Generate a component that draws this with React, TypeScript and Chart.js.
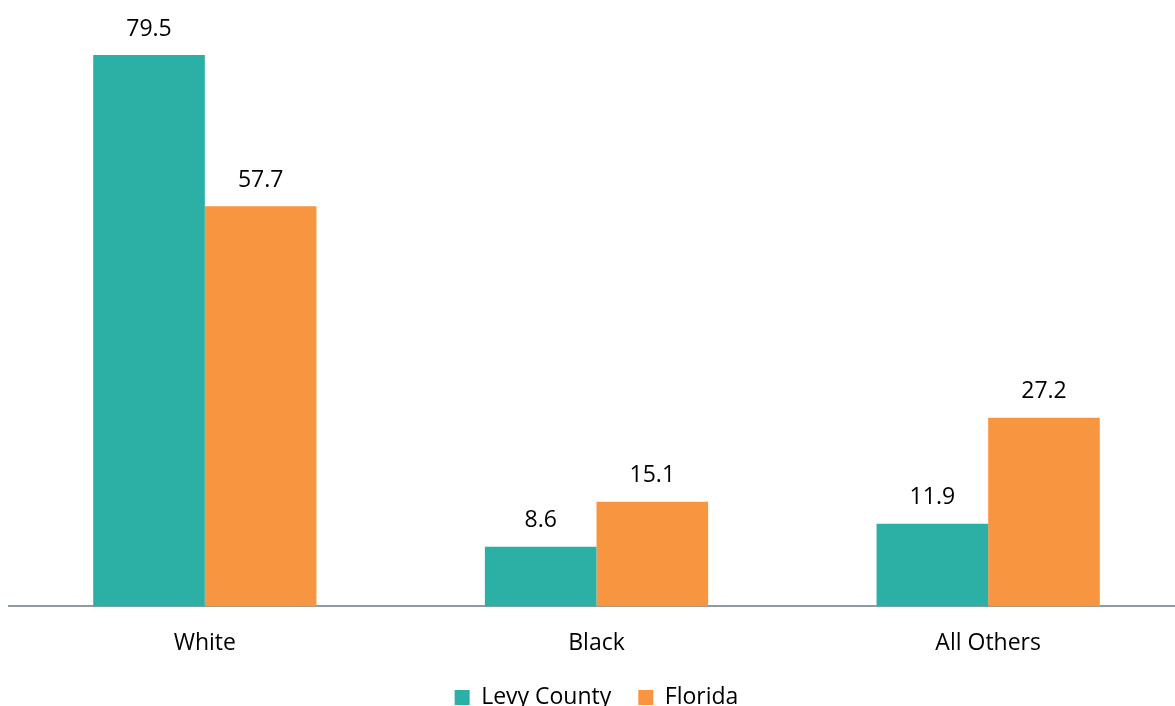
import React, { useEffect, useRef } from "react";
import { Chart, registerables } from "chart.js";

Chart.register(...registerables);

const categories = ["White", "Black", "All Others"];
const levyCounty = [79.5, 8.6, 11.9];
const florida = [57.7, 15.1, 27.2];
const seriesNames = ["Levy County", "Florida"];

const TEAL = "#2CAFA4";
const ORANGE = "#F79541";
const FONT = "'Open Sans', 'Noto Sans', sans-serif";

// Writes each bar's value above it, taken from the bar element's own position.
const valueLabels = {
  id: "valueLabels",
  afterDatasetsDraw(chart: Chart) {
    const { ctx } = chart;
    ctx.save();
    ctx.font = `23px ${FONT}`;
    ctx.fillStyle = "#000000";
    ctx.textAlign = "center";
    ctx.textBaseline = "middle";
    chart.data.datasets.forEach((ds, di) => {
      const meta = chart.getDatasetMeta(di);
      meta.data.forEach((el: any, i) => {
        const v = ds.data[i] as number;
        ctx.fillText(v.toFixed(1), el.x, el.y - 26);
      });
    });
    ctx.restore();
  },
};

export default function App() {
  const ref = useRef<HTMLCanvasElement | null>(null);

  useEffect(() => {
    document.body.style.margin = "0";
    if (!ref.current) return;
    const chart = new Chart(ref.current, {
      type: "bar",
      data: {
        labels: categories,
        datasets: [
          {
            label: seriesNames[0],
            data: levyCounty,
            backgroundColor: TEAL,
            categoryPercentage: 0.57,
            barPercentage: 1.0,
          },
          {
            label: seriesNames[1],
            data: florida,
            backgroundColor: ORANGE,
            categoryPercentage: 0.57,
            barPercentage: 1.0,
          },
        ],
      },
      options: {
        animation: false,
        responsive: true,
        maintainAspectRatio: false,
        layout: { padding: { left: 9, right: 1, top: 51.5, bottom: 0 } },
        plugins: {
          legend: {
            position: "bottom",
            labels: {
              boxWidth: 15,
              boxHeight: 15,
              padding: 27,
              color: "#000000",
              font: { family: FONT, size: 23 },
            },
          },
          tooltip: { enabled: false },
        },
        scales: {
          x: {
            grid: { display: false },
            border: { display: true, color: "#8E9BA2", width: 2 },
            ticks: {
              color: "#000000",
              padding: 15,
              font: { family: FONT, size: 23 },
            },
            // let the legend sit closer to the category labels
            afterFit(scale: any) {
              scale.height = scale.height - 13;
            },
          },
          y: {
            display: false,
            min: 0,
            max: 80,
          },
        },
      },
      plugins: [valueLabels],
    });
    return () => chart.destroy();
  }, []);

  return (
    <div
      style={{
        position: "absolute",
        left: 0,
        top: 0,
        width: 1175,
        height: 706,
        overflow: "hidden",
        background: "#ffffff",
      }}
    >
      <div style={{ position: "relative", width: 1185, height: 719 }}>
        <canvas ref={ref} />
      </div>
    </div>
  );
}
